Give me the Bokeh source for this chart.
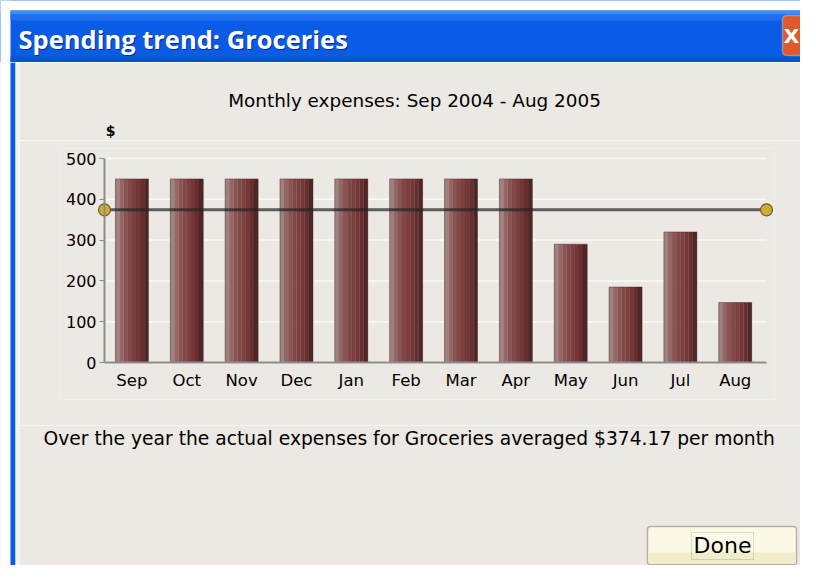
from bokeh.plotting import figure
from bokeh.models import Range1d, FixedTicker, BoxAnnotation, Label
from bokeh.layouts import column, row
from bokeh.embed import file_html
from bokeh.resources import INLINE

# ---- data ----
months = ["Sep", "Oct", "Nov", "Dec", "Jan", "Feb", "Mar", "Apr", "May", "Jun", "Jul", "Aug"]
expenses = [450, 450, 450, 450, 450, 450, 450, 450, 290, 185, 320, 147]
average = 374.17
y_ticks = [0, 100, 200, 300, 400, 500]
window_title = "Spending trend: Groceries"
chart_title = "Monthly expenses: Sep 2004 - Aug 2005"
y_label = "$"
summary = "Over the year the actual expenses for Groceries averaged $374.17 per month"
button_text = "Done"

BODY = "#ECE9E4"
FONT = "DejaVu Sans"


def panel(w, h, bg):
    f = figure(width=w, height=h, output_backend="svg", toolbar_location=None,
               x_range=Range1d(0, w), y_range=Range1d(h, 0), min_border=0,
               background_fill_color=bg, border_fill_color=bg, outline_line_color=None)
    f.axis.visible = False
    f.grid.grid_line_color = None
    return f


def box(f, l, r, t, b, **kw):
    f.add_layout(BoxAnnotation(left=l, right=r, top=t, bottom=b, **kw))


def label(f, x, y, text, **kw):
    kw.setdefault("text_font", FONT)
    f.add_layout(Label(x=x, y=y, text=text, **kw))


# ---------- title bar (y 0..62) ----------
top = panel(800, 62, "#0a5ce6")
box(top, 0, 800, 0, 10, fill_color="#ffffff", fill_alpha=1, line_color=None)
box(top, 0, 10, 0, 62, fill_color="#ffffff", fill_alpha=1, line_color=None)
box(top, 10, 800, 10, 14, fill_color="#3d8ef2", fill_alpha=1, line_color=None)
box(top, 10, 800, 14, 20, fill_color="#1f6fee", fill_alpha=1, line_color=None)
box(top, 10, 800, 56, 62, fill_color="#0b52d2", fill_alpha=1, line_color=None)
label(top, 19, 39, window_title, text_color="#0a2a80", text_font="Open Sans",
      text_font_style="bold", text_font_size="25.5px", text_baseline="middle")
label(top, 18, 38, window_title, text_color="#ffffff", text_font="Open Sans",
      text_font_style="bold", text_font_size="25.5px", text_baseline="middle")
box(top, 782, 830, 15, 55, fill_color="#dc5a2e", fill_alpha=1, line_color="#ffffff",
    line_width=1.5, border_radius=4)
label(top, 791, 35, "X", text_color="#ffffff", text_font_style="bold", text_font_size="20px",
      text_align="center", text_baseline="middle")

# ---------- left window border (y 62..565) ----------
left = panel(19, 503, BODY)
box(left, 0, 10, 0, 503, fill_color="#ffffff", fill_alpha=1, line_color=None)
box(left, 10, 15, 0, 503, fill_color="#0d5be0", fill_alpha=1, line_color=None)
box(left, 15, 19, 0, 503, fill_color="#f5f4ef", fill_alpha=1, line_color=None)

# ---------- chart heading (x 19..800, y 62..140) ----------
head = panel(781, 78, BODY)
label(head, 395, 38, chart_title, text_color="#000000", text_font_size="18.4px",
      text_align="center", text_baseline="middle")
label(head, 91, 68, y_label, text_color="#000000", text_font_style="bold",
      text_font_size="14px", text_align="center", text_baseline="middle")

# ---------- chart (y 140..425) ----------
x_end = 12.07
px_x = 54.85          # pixels per category
px_y = 0.408          # pixels per dollar
p = figure(width=781, height=285, output_backend="svg", toolbar_location=None,
           x_range=Range1d(-44 / px_x, x_end + 8 / px_x),
           y_range=Range1d(-37 / px_y, 500 + 10 / px_y),
           min_border_left=41, min_border_right=26, min_border_top=8, min_border_bottom=26,
           background_fill_color=BODY, border_fill_color=BODY, outline_line_color=None)

# faint grid lines from the tick values
p.segment(x0=[0] * len(y_ticks), x1=[x_end] * len(y_ticks), y0=y_ticks, y1=y_ticks,
          line_color="#ffffff", line_alpha=0.7, line_width=1.5)

grad = ["#9e8280", "#946666", "#8a5454", "#824848", "#7b3f3f", "#733737", "#662f2f", "#4e2626"]
bw = 0.6
n = len(grad)
centers = [i + 0.5 for i in range(len(months))]
for k, c in enumerate(grad):
    xs = [cx - bw / 2 + (k + 0.5) * bw / n for cx in centers]
    p.vbar(x=xs, top=expenses, width=bw / n + 0.004, bottom=0, fill_color=c, line_color=None)
p.vbar(x=centers, top=expenses, width=bw, bottom=0,
       fill_color=None, line_color="#4a2626", line_alpha=0.45, line_width=1)

ax = [0, x_end]
ay = [average, average]
p.line(ax, ay, line_color="#262626", line_width=3, line_alpha=0.72)
p.scatter(ax, ay, size=12, fill_color="#ccac35", line_color="#6e5c1c", line_width=1.2)

p.xaxis.ticker = FixedTicker(ticks=centers)
p.xaxis.major_label_overrides = {c: m for c, m in zip(centers, months)}
p.xaxis.bounds = (0, x_end)
p.xaxis.fixed_location = 0
p.yaxis.ticker = FixedTicker(ticks=y_ticks)
p.yaxis.bounds = (0, 500)
p.yaxis.fixed_location = 0
for a in (p.xaxis[0], p.yaxis[0]):
    a.axis_line_color = "#8c8c8c"
    a.axis_line_width = 2
    a.major_label_text_font = FONT
    a.minor_tick_line_color = None
    a.major_label_text_color = "#000000"
p.xaxis.major_label_text_font_size = "16.5px"
p.yaxis.major_label_text_font_size = "16px"
p.xaxis.major_tick_line_color = None
p.xaxis.major_tick_out = 0
p.xaxis.major_tick_in = 0
p.xaxis.major_label_standoff = 8
p.yaxis.major_tick_out = 5
p.yaxis.major_tick_in = 0
p.yaxis.major_tick_line_color = "#8c8c8c"
p.yaxis.major_label_standoff = 3
p.grid.grid_line_color = None

# ---------- footer (y 425..565) ----------
foot = panel(781, 140, BODY)
label(foot, 24, 13, summary, text_color="#000000", text_font_size="18.7px",
      text_align="left", text_baseline="middle")
box(foot, 628, 777, 101, 139, fill_color="#fbf9e6", fill_alpha=1, line_color="#1c1c1c",
    line_width=1.5, border_radius=3)
box(foot, 629, 776, 127, 138, fill_color="#f1edca", fill_alpha=1, line_color=None)
box(foot, 672, 734, 107, 134, fill_color=None, line_color="#222222", line_width=1, line_dash="1 1")
label(foot, 703, 120, button_text, text_color="#000000", text_font_size="22px",
      text_align="center", text_baseline="middle")

body = column(row(head, spacing=0), row(p, spacing=0), row(foot, spacing=0), spacing=0)
layout = column(top, row(left, body, spacing=0), spacing=0)
open("out.html", "w").write(file_html(layout, INLINE))
